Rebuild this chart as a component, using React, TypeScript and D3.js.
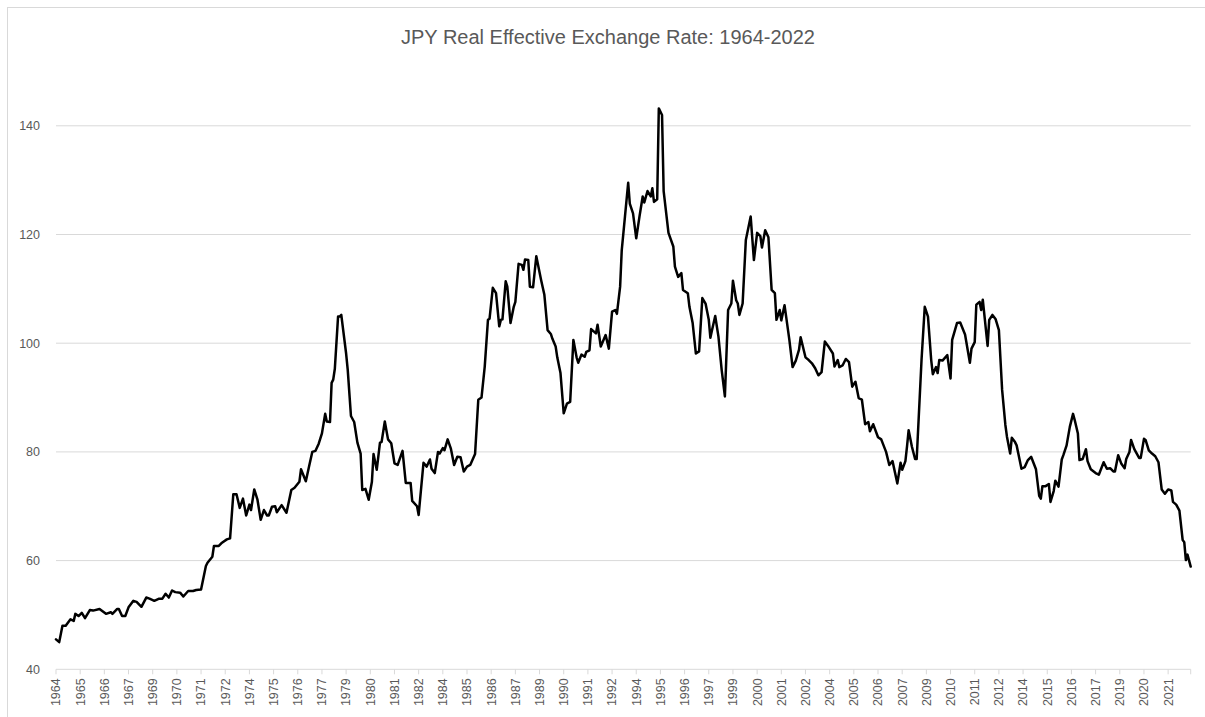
import * as d3 from 'd3';

const reerPoints: [string, number][] = [
  ["1964-01", 45.5], ["1964-03", 45.0], ["1964-05", 48.0], ["1964-07", 48.0], ["1964-10", 49.2], ["1964-12", 48.9],
  ["1965-01", 50.2], ["1965-03", 49.8], ["1965-05", 50.4], ["1965-07", 49.4], ["1965-10", 50.9], ["1965-12", 50.8],
  ["1966-04", 51.1], ["1966-08", 50.2], ["1966-11", 50.5], ["1966-12", 50.2],
  ["1967-03", 51.1], ["1967-04", 51.1], ["1967-06", 49.8], ["1967-08", 49.8], ["1967-10", 51.4],
  ["1968-01", 52.6], ["1968-03", 52.4], ["1968-06", 51.5], ["1968-09", 53.2], ["1968-11", 53.0],
  ["1969-02", 52.6], ["1969-05", 53.0], ["1969-07", 53.0], ["1969-09", 53.9], ["1969-11", 53.2],
  ["1970-01", 54.5], ["1970-03", 54.2], ["1970-06", 54.1], ["1970-08", 53.4], ["1970-11", 54.4],
  ["1971-02", 54.4], ["1971-04", 54.6], ["1971-07", 54.7], ["1971-10", 59.0], ["1971-11", 59.6],
  ["1972-02", 60.7], ["1972-03", 62.7], ["1972-06", 62.7], ["1972-08", 63.3], ["1972-11", 63.9],
  ["1973-01", 64.1], ["1973-03", 72.2], ["1973-05", 72.2], ["1973-07", 69.7], ["1973-09", 71.4], ["1973-11", 68.3],
  ["1974-01", 70.3], ["1974-02", 69.3], ["1974-04", 73.1], ["1974-06", 71.2], ["1974-08", 67.5], ["1974-10", 69.3], ["1974-12", 68.3],
  ["1975-01", 68.3], ["1975-03", 69.9], ["1975-05", 70.0], ["1975-06", 68.9], ["1975-09", 70.2], ["1975-12", 68.8],
  ["1976-03", 73.0], ["1976-05", 73.4], ["1976-08", 74.5], ["1976-09", 76.8], ["1976-12", 74.6],
  ["1977-02", 77.3], ["1977-04", 80.0], ["1977-06", 80.2], ["1977-08", 81.5], ["1977-10", 83.4], ["1977-12", 87.0],
  ["1978-01", 85.6], ["1978-03", 85.5], ["1978-04", 92.7], ["1978-05", 93.3], ["1978-06", 95.3], ["1978-08", 104.9], ["1978-09", 104.9], ["1978-10", 105.2],
  ["1979-01", 98.1], ["1979-02", 95.1], ["1979-04", 86.6], ["1979-06", 85.5], ["1979-08", 81.7], ["1979-10", 79.7], ["1979-11", 73.0],
  ["1980-01", 73.2], ["1980-03", 71.2], ["1980-05", 74.5], ["1980-06", 79.6], ["1980-08", 76.7], ["1980-10", 81.7], ["1980-11", 81.8],
  ["1981-01", 85.6], ["1981-03", 82.3], ["1981-05", 81.6], ["1981-07", 77.9], ["1981-09", 77.6], ["1981-10", 78.5], ["1981-12", 80.2],
  ["1982-02", 74.3], ["1982-05", 74.3], ["1982-06", 71.0], ["1982-09", 70.0], ["1982-10", 68.4],
  ["1983-01", 78.0], ["1983-03", 77.3], ["1983-05", 78.6], ["1983-06", 76.9], ["1983-08", 76.1], ["1983-10", 80.0], ["1983-11", 79.7],
  ["1984-01", 80.7], ["1984-02", 80.3], ["1984-04", 82.3], ["1984-06", 80.6], ["1984-08", 77.6], ["1984-10", 79.1], ["1984-12", 79.0],
  ["1985-02", 76.4], ["1985-04", 77.3], ["1985-06", 77.6], ["1985-09", 79.6], ["1985-11", 89.6],
  ["1986-01", 90.0], ["1986-03", 95.7], ["1986-05", 104.3], ["1986-06", 104.5], ["1986-08", 110.2], ["1986-10", 109.2], ["1986-12", 103.1],
  ["1987-01", 104.3], ["1987-02", 104.4], ["1987-04", 111.4], ["1987-05", 110.4], ["1987-07", 103.7], ["1987-09", 106.7], ["1987-10", 107.6], ["1987-12", 114.6],
  ["1988-02", 114.4], ["1988-03", 113.5], ["1988-04", 115.4], ["1988-06", 115.3], ["1988-07", 110.4], ["1988-09", 110.3], ["1988-11", 116.0],
  ["1989-02", 111.6], ["1989-04", 108.9], ["1989-06", 102.4], ["1989-08", 101.7], ["1989-09", 100.8], ["1989-11", 99.4], ["1989-12", 97.4],
  ["1990-02", 94.5], ["1990-04", 87.1], ["1990-06", 88.9], ["1990-08", 89.2], ["1990-10", 100.6], ["1990-12", 97.4],
  ["1991-01", 96.4], ["1991-03", 97.9], ["1991-05", 97.5], ["1991-06", 98.4], ["1991-08", 98.7], ["1991-09", 102.6], ["1991-12", 101.8],
  ["1992-01", 103.4], ["1992-03", 99.4], ["1992-06", 101.5], ["1992-08", 99.0], ["1992-10", 105.8], ["1992-12", 106.1],
  ["1993-01", 105.4], ["1993-03", 110.4], ["1993-04", 117.1], ["1993-06", 123.3], ["1993-08", 129.5], ["1993-09", 125.7], ["1993-11", 123.9],
  ["1994-01", 119.3], ["1994-03", 123.3], ["1994-05", 127.0], ["1994-06", 125.9], ["1994-08", 128.0], ["1994-10", 127.0], ["1994-11", 128.5], ["1994-12", 126.0],
  ["1995-02", 126.5], ["1995-03", 143.2], ["1995-05", 142.0], ["1995-06", 128.0], ["1995-09", 120.3], ["1995-12", 117.8],
  ["1996-01", 114.1], ["1996-03", 112.2], ["1996-05", 112.9], ["1996-06", 109.8], ["1996-09", 109.2], ["1996-10", 106.7], ["1996-12", 103.7],
  ["1997-02", 98.1], ["1997-04", 98.5], ["1997-06", 108.3], ["1997-08", 107.3], ["1997-10", 104.3], ["1997-11", 101.0], ["1997-12", 102.4],
  ["1998-02", 105.0], ["1998-04", 101.2], ["1998-06", 95.1], ["1998-08", 90.2], ["1998-10", 106.1], ["1998-12", 107.3],
  ["1999-01", 111.5], ["1999-03", 107.9], ["1999-04", 107.3], ["1999-05", 105.2], ["1999-07", 107.3], ["1999-09", 119.0], ["1999-12", 123.3],
  ["2000-02", 115.3], ["2000-04", 120.3], ["2000-06", 119.7], ["2000-07", 117.6], ["2000-09", 120.8], ["2000-11", 119.5],
  ["2001-01", 109.8], ["2001-03", 109.2], ["2001-04", 104.3], ["2001-06", 106.1], ["2001-07", 104.2], ["2001-09", 107.0], ["2001-10", 104.9], ["2001-12", 100.6],
  ["2002-02", 95.6], ["2002-04", 96.8], ["2002-06", 98.8], ["2002-07", 101.1], ["2002-10", 97.4], ["2002-12", 96.9],
  ["2003-02", 96.3], ["2003-04", 95.4], ["2003-06", 94.1], ["2003-08", 94.7], ["2003-10", 100.3], ["2003-12", 99.5],
  ["2004-03", 98.1], ["2004-04", 95.7], ["2004-06", 96.9], ["2004-07", 95.6], ["2004-09", 95.9], ["2004-11", 97.1],
  ["2005-01", 96.5], ["2005-03", 92.0], ["2005-05", 92.9], ["2005-07", 89.9], ["2005-09", 89.6], ["2005-11", 85.1],
  ["2006-01", 85.5], ["2006-02", 83.8], ["2006-04", 85.1], ["2006-07", 82.7], ["2006-09", 82.3], ["2006-12", 80.0],
  ["2007-02", 77.6], ["2007-04", 78.3], ["2007-07", 74.2], ["2007-09", 78.0], ["2007-10", 76.7], ["2007-12", 78.3],
  ["2008-01", 81.0], ["2008-02", 84.0], ["2008-04", 81.0], ["2008-06", 78.7], ["2008-07", 78.7], ["2008-10", 96.9], ["2008-12", 106.7],
  ["2009-02", 104.9], ["2009-04", 96.9], ["2009-05", 94.3], ["2009-07", 95.6], ["2009-08", 94.5], ["2009-09", 96.9], ["2009-11", 96.8],
  ["2010-02", 97.8], ["2010-04", 93.5], ["2010-05", 100.6], ["2010-08", 103.7], ["2010-10", 103.8],
  ["2011-01", 101.6], ["2011-04", 96.4], ["2011-05", 99.0], ["2011-07", 100.2], ["2011-08", 107.1], ["2011-10", 107.6], ["2011-11", 106.1], ["2011-12", 108.0],
  ["2012-03", 99.5], ["2012-04", 104.3], ["2012-06", 105.2], ["2012-08", 104.4], ["2012-10", 102.4], ["2012-12", 91.4],
  ["2013-02", 85.0], ["2013-03", 82.8], ["2013-05", 79.7], ["2013-06", 82.6], ["2013-08", 81.8], ["2013-09", 81.2], ["2013-12", 76.9],
  ["2014-02", 77.2], ["2014-04", 78.5], ["2014-06", 79.1], ["2014-09", 76.8], ["2014-11", 71.9], ["2014-12", 71.4],
  ["2015-01", 73.7], ["2015-03", 73.7], ["2015-05", 74.1], ["2015-06", 70.8], ["2015-08", 72.8], ["2015-09", 74.7], ["2015-11", 73.6],
  ["2016-01", 78.6], ["2016-02", 79.4], ["2016-04", 81.2], ["2016-06", 84.6], ["2016-08", 87.0], ["2016-09", 85.9], ["2016-11", 83.4], ["2016-12", 78.5],
  ["2017-02", 78.7], ["2017-04", 80.5], ["2017-05", 78.3], ["2017-07", 76.8], ["2017-10", 76.1], ["2017-12", 75.8],
  ["2018-03", 78.1], ["2018-05", 76.9], ["2018-07", 77.0], ["2018-09", 76.4], ["2018-10", 76.4], ["2018-12", 79.4],
  ["2019-02", 77.8], ["2019-04", 77.0], ["2019-05", 78.7], ["2019-07", 80.0], ["2019-08", 82.2], ["2019-10", 80.5],
  ["2020-01", 78.9], ["2020-02", 78.9], ["2020-04", 82.4], ["2020-05", 82.2], ["2020-07", 80.3], ["2020-09", 79.7], ["2020-11", 79.2],
  ["2021-01", 78.1], ["2021-03", 73.1], ["2021-05", 72.3], ["2021-07", 73.1], ["2021-09", 72.9], ["2021-10", 70.8], ["2021-12", 70.3],
  ["2022-02", 69.2], ["2022-04", 63.8], ["2022-05", 63.4], ["2022-06", 60.1], ["2022-07", 61.1], ["2022-09", 58.9],
];

const yTicks = [40, 60, 80, 100, 120, 140];

// Excel shows every 15th monthly category
const xTickLabels = [
  "1964", "1965", "1966", "1967", "1969", "1970", "1971", "1972", "1974", "1975", "1976", "1977",
  "1979", "1980", "1981", "1982", "1984", "1985", "1986", "1987", "1989", "1990", "1991", "1992",
  "1994", "1995", "1996", "1997", "1999", "2000", "2001", "2002", "2004", "2005", "2006", "2007",
  "2009", "2010", "2011", "2012", "2014", "2015", "2016", "2017", "2019", "2020", "2021",
];
const labelInterval = 15;

const title = "JPY Real Effective Exchange Rate: 1964-2022";

const WIDTH = 1205;
const HEIGHT = 717;
const plot = { left: 56, right: 1190.7, top: 125.8, bottom: 669.3 };
const gray = "#595959";
const gridColor = "#d9d9d9";
const font = "'Liberation Sans', Arial, sans-serif";

const startYear = 1964;
const monthIndex = (d: string) => {
  const [y, m] = d.split("-").map(Number);
  return (y - startYear) * 12 + (m - 1);
};

export default function App() {
  const lastIdx = monthIndex(reerPoints[reerPoints.length - 1][0]);

  const x = d3.scaleLinear().domain([0, lastIdx]).range([plot.left, plot.right]);
  const y = d3.scaleLinear().domain([40, 140]).range([plot.bottom, plot.top]);

  const line = d3.line<[string, number]>()
    .x(d => x(monthIndex(d[0])))
    .y(d => y(d[1]));

  const tickIdx = xTickLabels.map((_, i) => i * labelInterval);

  return (
    <svg width={WIDTH} height={HEIGHT} style={{ position: 'absolute', left: 0, top: 0, background: '#fff' }}
      fontFamily={font}>
      <rect x={7.5} y={7.5} width={WIDTH + 10} height={HEIGHT + 10} fill="#fff" stroke={gridColor} />

      <text x={608} y={44} textAnchor="middle" fontSize={20} fill={gray}>{title}</text>

      {/* gridlines + y labels */}
      {yTicks.map(t => (
        <g key={t}>
          <line x1={plot.left} x2={plot.right} y1={y(t)} y2={y(t)} stroke={gridColor} strokeWidth={1} />
          <text x={40} y={y(t)} dy="0.35em" textAnchor="end" fontSize={12.5} fill={gray}>{t}</text>
        </g>
      ))}

      {/* x axis ticks */}
      {tickIdx.concat([lastIdx]).map((m, i) => (
        <line key={"t" + i} x1={x(m)} x2={x(m)} y1={plot.bottom} y2={plot.bottom + 5} stroke={gridColor} />
      ))}
      {xTickLabels.map((lab, i) => (
        <text key={lab} transform={`translate(${x(tickIdx[i])},${plot.bottom + 9}) rotate(-90)`}
          textAnchor="end" dy="0.35em" fontSize={12.5} fill={gray}>{lab}</text>
      ))}

      <path d={line(reerPoints) ?? ""} fill="none" stroke="#000" strokeWidth={2.5}
        strokeLinejoin="round" strokeLinecap="round" />
    </svg>
  );
}
